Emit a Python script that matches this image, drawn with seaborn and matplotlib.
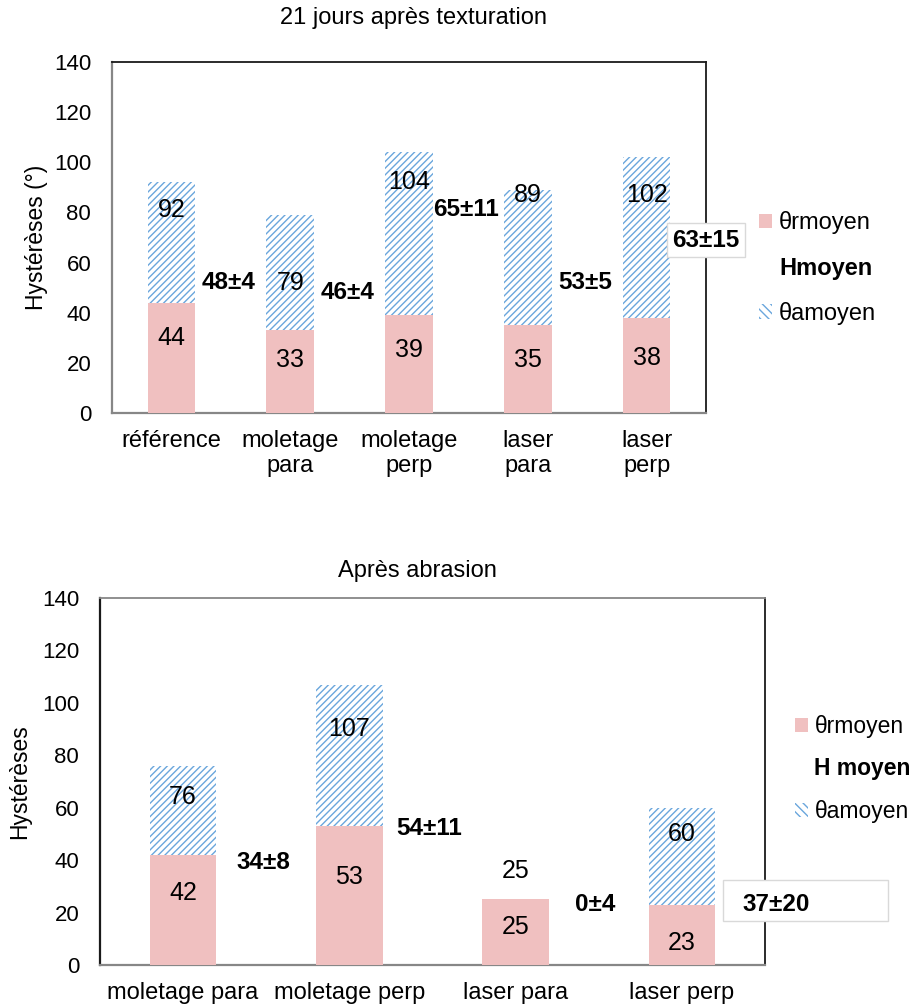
import numpy as np
import matplotlib
matplotlib.use("Agg")
import matplotlib.pyplot as plt
import matplotlib.patches as mpatches
import seaborn as sns

# 21 jours après texturation
top_categories = ["référence", "moletage\npara", "moletage\nperp", "laser\npara", "laser\nperp"]
top_theta_r = [44, 33, 39, 35, 38]
top_theta_a = [92, 79, 104, 89, 102]
top_h = ["48±4", "46±4", "65±11", "53±5", "63±15"]

# Après abrasion
bot_categories = ["moletage para", "moletage perp", "laser para", "laser perp"]
bot_theta_r = [42, 53, 25, 23]
bot_theta_a = [76, 107, 25, 60]
bot_h = ["34±8", "54±11", "0±4", "37±20"]

# label heights (placed by hand in the original chart)
top_r_label_y = [30, 21, 25, 21, 22]
top_a_label_y = [81, 52, 92, 87, 87]
top_h_label_y = [52, 48, 81, 52, 69]
bot_r_label_y = [27.5, 33.5, 14.5, 8.5]
bot_a_label_y = [64, 90, 36, 50]
bot_h_label_y = [39, 52, 23, 23]

PINK = "#f0c0c0"
BLUE = "#6aa6dc"
GRAY = "#878787"

sns.set_style("white")
plt.rcParams["font.family"] = ["Liberation Sans", "DejaVu Sans"]
plt.rcParams["hatch.linewidth"] = 1.0
plt.rcParams["text.color"] = "black"
plt.rcParams["xtick.color"] = "black"
plt.rcParams["ytick.color"] = "black"
plt.rcParams["axes.labelcolor"] = "black"


def draw_panel(ax, cats, theta_r, theta_a, h_txt, r_y, a_y, h_y, ylabel,
               last_box=True, last_dx=0.0):
    n = len(cats)
    # θa bars drawn full height, hatched, then θr on top
    sns.barplot(x=cats, y=theta_a, ax=ax, color="white", edgecolor=BLUE,
                hatch="/////", linewidth=0, width=0.4, saturation=1, zorder=2)
    sns.barplot(x=cats, y=theta_r, ax=ax, color=PINK, linewidth=0,
                width=0.4, saturation=1, zorder=3)

    for i in range(n):
        ax.text(i, r_y[i], str(theta_r[i]), ha="center", va="center", fontsize=18, zorder=5)
        ax.text(i, a_y[i], str(theta_a[i]), ha="center", va="center", fontsize=18, zorder=5)
        if i == n - 1 and last_box:
            ax.text(i + 0.5, h_y[i], h_txt[i], ha="center", va="center", fontsize=17.5,
                    fontweight="bold", zorder=6, clip_on=False,
                    bbox=dict(boxstyle="square,pad=0.22", fc="white", ec="#d9d9d9", lw=1))
        else:
            dx = last_dx if i == n - 1 else 0.0
            ax.text(i + 0.48 + dx, h_y[i], h_txt[i], ha="center", va="center", fontsize=17.5,
                    fontweight="bold", zorder=6, clip_on=False)

    ax.set_xlim(-0.5, n - 0.5)
    ax.set_ylim(0, 140)
    ax.set_yticks(np.arange(0, 141, 20))
    ax.set_xticks(np.arange(-0.5, n, 1), minor=True)
    ax.tick_params(axis="x", which="major", length=0, pad=12, labelsize=17)
    ax.tick_params(axis="x", which="minor", length=6, width=1.5, color=GRAY, direction="out")
    ax.tick_params(axis="y", length=6, width=1.5, color=GRAY, direction="out", pad=9, labelsize=16)
    ax.set_xlabel("")
    ax.set_ylabel(ylabel, fontsize=16.5)
    for side in ["left", "bottom"]:
        ax.spines[side].set_color(GRAY)
        ax.spines[side].set_linewidth(1.6)
    for side in ["top", "right"]:
        ax.spines[side].set_color("#1a1a1a")
        ax.spines[side].set_linewidth(1.3)
        ax.spines[side].set_visible(True)


def add_legend(fig, x, y, hlabel, spacing, size):
    handles = [
        mpatches.Patch(facecolor=PINK, edgecolor="none"),
        mpatches.Patch(facecolor="none", edgecolor="none"),
        mpatches.Patch(facecolor="white", edgecolor=BLUE, hatch="\\\\\\\\", linewidth=0),
    ]
    leg = fig.legend(handles, ["θrmoyen", hlabel, "θamoyen"], loc="center left",
                     bbox_to_anchor=(x, y), frameon=False, fontsize=size,
                     handlelength=0.55, handleheight=0.55, handletextpad=0.3,
                     labelspacing=spacing, borderpad=0, borderaxespad=0)
    leg.get_texts()[1].set_fontweight("bold")


fig = plt.figure(figsize=(9.2, 10.08), dpi=100)

ax1 = fig.add_axes([112 / 920, 1 - 413 / 1008, 594 / 920, 351 / 1008])
draw_panel(ax1, top_categories, top_theta_r, top_theta_a, top_h,
           top_r_label_y, top_a_label_y, top_h_label_y, "Hystérèses (°)")
ax1.yaxis.set_label_coords(-0.108, 0.5)
fig.text(414 / 920, 1 - 18 / 1008, "21 jours après texturation", ha="center", va="center", fontsize=17)
add_legend(fig, 759 / 920, 1 - 268 / 1008, "Hmoyen", 0.95, 17)

ax2 = fig.add_axes([100 / 920, 1 - 965 / 1008, 665 / 920, 367 / 1008])
draw_panel(ax2, bot_categories, bot_theta_r, bot_theta_a, bot_h,
           bot_r_label_y, bot_a_label_y, bot_h_label_y, "Hystérèses",
           last_box=False, last_dx=0.09)
ax2.spines["left"].set_color("#1a1a1a")
ax2.spines["top"].set_color(GRAY)
ax2.yaxis.set_label_coords(-0.104, 0.5)
# boxed label for laser perp sits partly outside the frame
ax2.add_patch(mpatches.Rectangle((3.247, 16.8), 0.994, 15.6, facecolor="white",
                                 edgecolor="#d9d9d9", lw=1, zorder=5, clip_on=False))
fig.text(417 / 920, 1 - 571 / 1008, "Après abrasion", ha="center", va="center", fontsize=17)
add_legend(fig, 795 / 920, 1 - 769 / 1008, "H moyen", 0.85, 16.5)

fig.savefig("out.png", dpi=100)
